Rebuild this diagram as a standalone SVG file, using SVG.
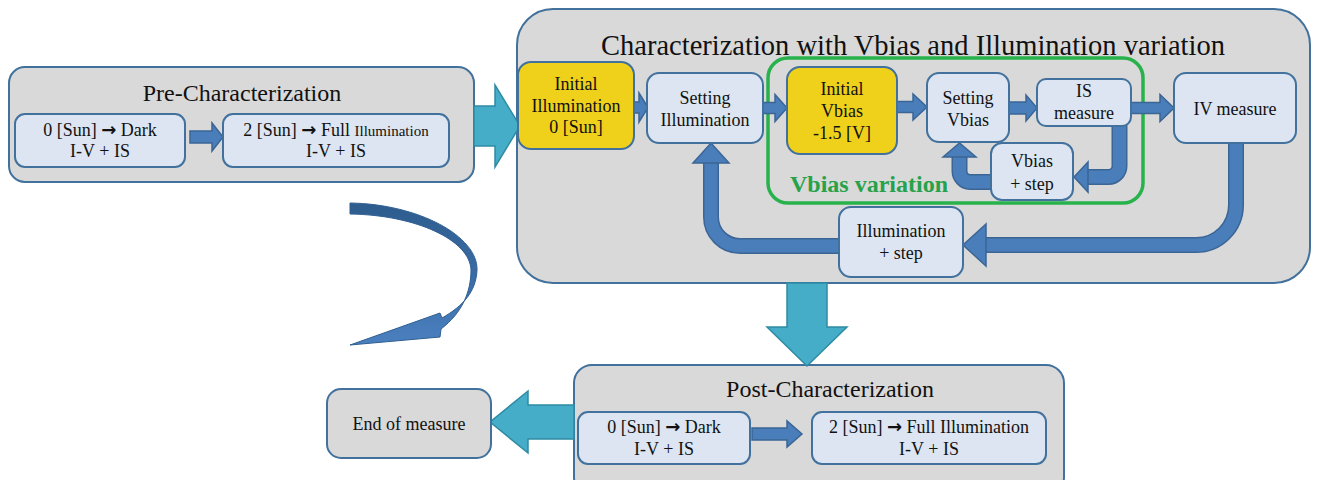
<svg xmlns="http://www.w3.org/2000/svg" width="1317" height="480" viewBox="0 0 1317 480">
  <defs>
    <style>
      .frame { fill: #d9d9d9; stroke: #41719c; stroke-width: 2; }
      .box { fill: #dce5f1; stroke: #41719c; stroke-width: 2; }
      .init { fill: #efd01b; stroke: #41719c; stroke-width: 2; }
      .green { fill: none; stroke: #27b24c; stroke-width: 3.5; }
      .blk { fill: #4a7ebb; stroke: #3a6595; stroke-width: 1.5; stroke-linejoin: miter; }
      .teal { fill: #45adc7; stroke: #2f8ba4; stroke-width: 1.5; }
      .pipeO { fill: none; stroke: #3a6595; stroke-width: 16; }
      .pipeI { fill: none; stroke: #4a7ebb; stroke-width: 13; }
      text { font-family: "Liberation Serif", "Times New Roman", serif; fill: #111; text-anchor: middle; }
      .t { font-size: 18px; }
      .ttl { font-size: 24px; }
      .big { font-size: 28.5px; }
      .sm { font-size: 15px; }
      .arr { font-family: "DejaVu Sans", sans-serif; font-weight: bold; font-size: 18px; }
      .gl { font-size: 24px; font-weight: bold; fill: #26a24a; text-anchor: start; }
    </style>
    <linearGradient id="curveFill" x1="0" y1="0" x2="0" y2="1">
      <stop offset="0" stop-color="#2d5c8e"/>
      <stop offset="0.5" stop-color="#3a6ca4"/>
      <stop offset="1" stop-color="#4b80c0"/>
    </linearGradient>
  </defs>

  <!-- containers -->
  <g id="pre-characterization">
    <rect class="frame" x="9" y="67" width="465" height="115" rx="16"/>
    <text class="ttl" x="242" y="101">Pre-Characterization</text>
  </g>
  <g id="characterization">
    <rect class="frame" x="517" y="9" width="793" height="274" rx="36"/>
    <text class="big" x="913" y="55">Characterization with Vbias and Illumination variation</text>
  </g>
  <g id="vbias-variation">
    <rect class="green" x="768" y="58" width="375" height="145" rx="20"/>
    <text class="gl" x="790" y="192">Vbias variation</text>
  </g>
  <g id="post-characterization">
    <rect class="frame" x="574" y="365" width="490" height="130" rx="18"/>
    <text class="ttl" x="830" y="397">Post-Characterization</text>
  </g>

  <!-- connectors -->
  <g id="connectors">
    <!-- large teal transitions between phases -->
    <polygon class="teal" points="474,106 495,106 495,85 520,126 495,167 495,146 474,146"/>
    <polygon class="teal" points="787,283 827,283 827,327 847,327 807,366 767,327 787,327"/>
    <polygon class="teal" points="574,405 528,405 528,391 490,422 528,453 528,439 574,439"/>

    <!-- curved return arrow -->
    <path d="M350,203 C418,204 478,236 477,270 C476,292 463,306 442,318 L440,313 L350,345 L440,337 L441,329 C462,313 471,292 471,270 C470,240 416,215 350,214 Z" fill="url(#curveFill)" stroke="#2f5f91" stroke-width="1"/>

    <!-- straight block arrows -->
    <polygon class="blk" points="190,131 212,131 212,123 223,137 212,151 212,143 190,143"/>
    <polygon class="blk" points="634,102 639,102 639,93 648,107.5 639,122 639,113 634,113"/>
    <polygon class="blk" points="763,102.5 775,102.5 775,94.5 787,108 775,121.5 775,113.5 763,113.5"/>
    <polygon class="blk" points="897,101.5 913,101.5 913,94 927,107 913,120 913,112.5 897,112.5"/>
    <polygon class="blk" points="1009,102 1026,102 1026,95 1037,108 1026,121 1026,114 1009,114"/>
    <polygon class="blk" points="1131,102.5 1160,102.5 1160,94.5 1174,108 1160,121.5 1160,113.5 1131,113.5"/>
    <polygon class="blk" points="752,428 787,428 787,421 802,434 787,447 787,440 752,440"/>

    <!-- IS measure to Vbias + step -->
    <path class="pipeO" d="M1119.5,124 V166 A11,11 0 0 1 1108.5,177 H1086"/>
    <path class="pipeI" d="M1119.5,124 V166 A11,11 0 0 1 1108.5,177 H1086"/>
    <polygon class="blk" points="1088,162 1074,177 1088,192"/>

    <!-- Vbias + step back to Setting Vbias -->
    <path class="pipeO" d="M993,182 H970 A11,11 0 0 1 959.5,171 V155"/>
    <path class="pipeI" d="M993,182 H970 A11,11 0 0 1 959.5,171 V155"/>
    <polygon class="blk" points="943,157 959.5,143 976,157"/>

    <!-- IV measure to Illumination + step -->
    <path class="pipeO" d="M1236,141 V205 A40,40 0 0 1 1196,245 H984"/>
    <path class="pipeI" d="M1236,141 V205 A40,40 0 0 1 1196,245 H984"/>
    <polygon class="blk" points="986,224 963,245 986,266"/>

    <!-- Illumination + step back to Setting Illumination -->
    <path class="pipeO" d="M840,246 H740 A29,29 0 0 1 711,217 V161"/>
    <path class="pipeI" d="M840,246 H740 A29,29 0 0 1 711,217 V161"/>
    <polygon class="blk" points="693,163 711,143 729,163"/>
  </g>

  <!-- process steps -->
  <g id="pre-dark">
    <rect class="box" x="15" y="114" width="170" height="53" rx="10"/>
    <text class="t" x="100" y="136">0 [Sun] <tspan class="arr">→</tspan> Dark</text>
    <text class="t" x="100" y="157">I-V + IS</text>
  </g>
  <g id="pre-full">
    <rect class="box" x="223" y="114" width="226" height="53" rx="10"/>
    <text class="t" x="336" y="136">2 [Sun] <tspan class="arr">→</tspan> Full <tspan class="sm">Illumination</tspan></text>
    <text class="t" x="336" y="157">I-V + IS</text>
  </g>
  <g id="initial-illumination">
    <rect class="init" x="518" y="62" width="116" height="87" rx="13"/>
    <text class="t" x="576" y="90">Initial</text>
    <text class="t" x="576" y="112">Illumination</text>
    <text class="t" x="576" y="133">0 [Sun]</text>
  </g>
  <g id="setting-illumination">
    <rect class="box" x="647" y="73" width="116" height="70" rx="12"/>
    <text class="t" x="705" y="104">Setting</text>
    <text class="t" x="705" y="126">Illumination</text>
  </g>
  <g id="initial-vbias">
    <rect class="init" x="787" y="67" width="110" height="87" rx="13"/>
    <text class="t" x="842" y="95">Initial</text>
    <text class="t" x="842" y="117">Vbias</text>
    <text class="t" x="842" y="139">-1.5 [V]</text>
  </g>
  <g id="setting-vbias">
    <rect class="box" x="927" y="73" width="82" height="69" rx="12"/>
    <text class="t" x="968" y="104">Setting</text>
    <text class="t" x="968" y="126">Vbias</text>
  </g>
  <g id="is-measure">
    <rect class="box" x="1037" y="79" width="94" height="47" rx="9"/>
    <text class="t" x="1084" y="97">IS</text>
    <text class="t" x="1084" y="119">measure</text>
  </g>
  <g id="iv-measure">
    <rect class="box" x="1174" y="73" width="122" height="70" rx="12"/>
    <text class="t" x="1235" y="115">IV measure</text>
  </g>
  <g id="vbias-step">
    <rect class="box" x="991" y="143" width="82" height="57" rx="11"/>
    <text class="t" x="1032" y="167">Vbias</text>
    <text class="t" x="1032" y="190">+ step</text>
  </g>
  <g id="illumination-step">
    <rect class="box" x="839" y="207" width="124" height="70" rx="12"/>
    <text class="t" x="901" y="237">Illumination</text>
    <text class="t" x="901" y="259">+ step</text>
  </g>
  <g id="post-dark">
    <rect class="box" x="578" y="412" width="172" height="52" rx="10"/>
    <text class="t" x="664" y="433">0 [Sun] <tspan class="arr">→</tspan> Dark</text>
    <text class="t" x="664" y="455">I-V + IS</text>
  </g>
  <g id="post-full">
    <rect class="box" x="812" y="412" width="234" height="52" rx="10"/>
    <text class="t" x="929" y="433">2 [Sun] <tspan class="arr">→</tspan> Full Illumination</text>
    <text class="t" x="929" y="455">I-V + IS</text>
  </g>
  <g id="end-of-measure">
    <rect class="frame" x="327" y="389" width="164" height="69" rx="14"/>
    <text class="t" x="409" y="430">End of measure</text>
  </g>
</svg>
